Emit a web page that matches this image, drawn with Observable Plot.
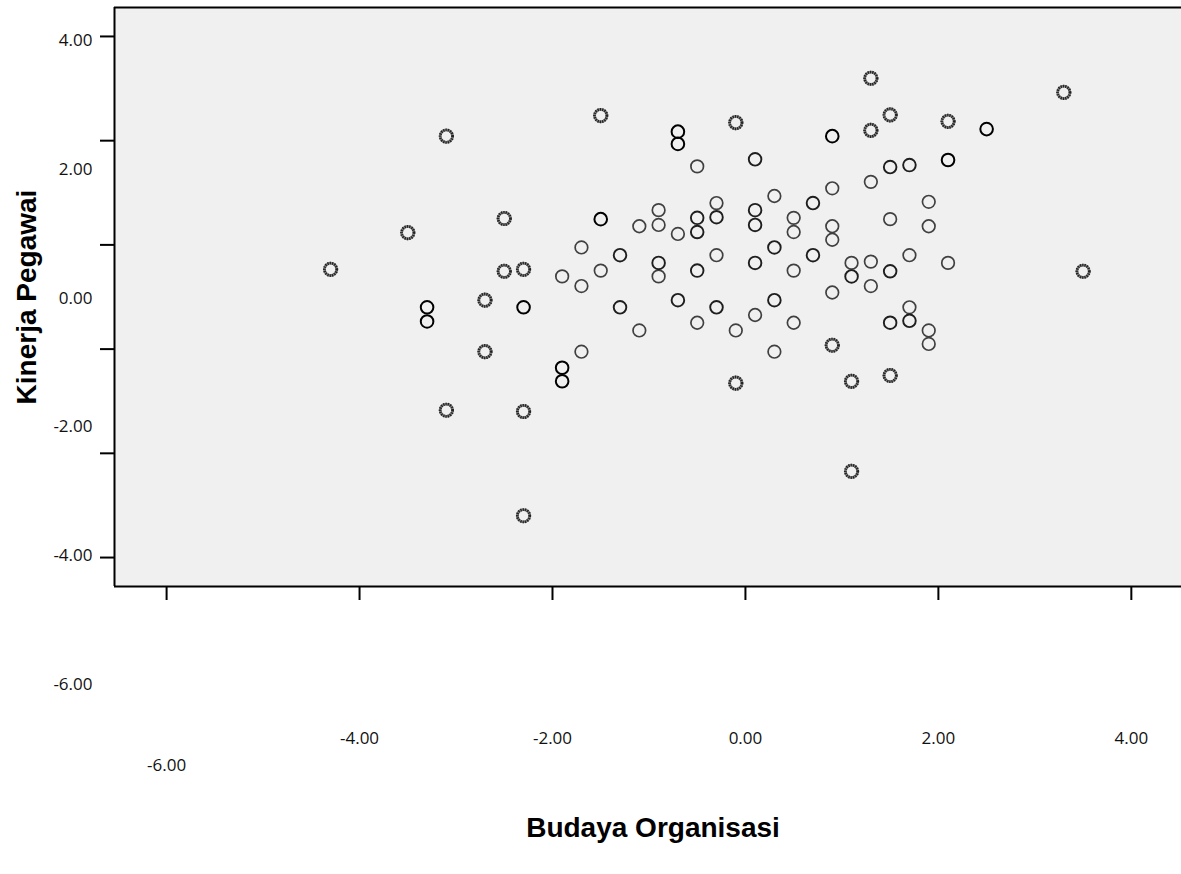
<!DOCTYPE html>
<html>
<head>
<meta charset="utf-8">
<script src="https://cdn.jsdelivr.net/npm/d3@7"></script>
<script src="https://cdn.jsdelivr.net/npm/@observablehq/plot@0.6"></script>
<style>
  html, body { margin: 0; padding: 0; background: #ffffff; }
  #chart svg { display: block; }
</style>
</head>
<body>
<div id="chart"></div>
<script>
// ---- Axis titles ----
const xTitle = "Budaya Organisasi";
const yTitle = "Kinerja Pegawai";

// ---- Scale domains (data units) ----
const xDomain = [-6.54, 4.52];
const yDomain = [-4.48, 4.52];

// ---- Tick marks and tick labels (as drawn by the original, ticks and labels do not coincide on y) ----
const xTickMarks = [-6, -4, -2, 0, 2, 4];
const xTickLabels = [-6, -4, -2, 0, 2, 4];
const yTickMarks = [4.07, 2.45, 0.83, -0.79, -2.41, -4.03];
const yTickLabels = [4, 2, 0, -2, -4, -6];

// ---- Points: speckled (overplotted grey) markers ----
const speckledX = [-4.3, -3.5, -3.1, -3.1, -2.7, -2.7, -2.5, -2.5, -2.3, -2.3, -2.3, -1.5, -0.1, -0.1, 0.9, 1.1, 1.1, 1.3, 1.3, 1.5, 2.1, 3.3, 3.5, 1.5];
const speckledY = [0.45, 1.02, 2.52, -1.74, -0.03, -0.83, 1.24, 0.42, 0.45, -1.76, -3.38, 2.84, 2.73, -1.32, -0.73, -1.29, -2.69, 3.42, 2.61, 2.85, 2.75, 3.20, 0.42, -1.20];

// ---- Points: crisp black markers ----
const blackX = [-3.3, -3.3, -2.3, -1.9, -1.9, -1.5, -0.7, -0.7, 0.9, 2.5, 2.1];
const blackY = [-0.14, -0.36, -0.14, -1.08, -1.29, 1.23, 2.59, 2.40, 2.52, 2.63, 2.15];

// ---- Points: dark grey markers ----
const darkX = [0.1, 0.7, -0.5, -0.5, -0.3, 0.1, 0.1, -1.3, -0.9, -0.5, 0.1, 0.3, 0.7, 1.1, -1.3, -0.7, -0.3, 0.3, 1.5, 1.7, 1.5, 1.5, 1.7];
const darkY = [2.16, 1.48, 1.25, 1.03, 1.26, 1.37, 1.14, 0.67, 0.55, 0.43, 0.55, 0.79, 0.67, 0.34, -0.14, -0.03, -0.14, -0.03, 2.04, 2.07, 0.42, -0.38, -0.35];

// ---- Points: medium grey markers ----
const greyX = [-1.7, -1.9, -1.7, -1.5, -1.7, -0.5, 0.3, 0.9, 1.3, -1.1, -0.9, -0.9, -0.7, -0.3, 0.5, 0.5, 0.9, 0.9, -0.9, -0.3, 0.5, 0.9, 1.1, 1.3, 1.3, -1.1, -0.5, -0.1, 0.1, 0.5, 0.3, 1.9, 1.5, 1.9, 1.7, 2.1, 1.7, 1.9, 1.9];
const greyY = [0.79, 0.34, 0.19, 0.43, -0.83, 2.05, 1.59, 1.71, 1.81, 1.12, 1.37, 1.14, 1.00, 1.48, 1.25, 1.03, 1.12, 0.91, 0.34, 0.67, 0.43, 0.09, 0.55, 0.57, 0.19, -0.50, -0.38, -0.50, -0.26, -0.38, -0.83, 1.50, 1.23, 1.12, 0.67, 0.55, -0.14, -0.50, -0.71];

const toRows = (xs, ys) => xs.map((x, i) => ({x, y: ys[i]}));
const speckled = toRows(speckledX, speckledY);
const black = toRows(blackX, blackY);
const dark = toRows(darkX, darkY);
const grey = toRows(greyX, greyY);

const tickFont = "'Open Sans', 'DejaVu Sans', sans-serif";
const titleFont = "'Liberation Sans', Arial, sans-serif";

const chart = Plot.plot({
  width: 1181,
  height: 874,
  marginLeft: 114,
  marginRight: 0,
  marginTop: 7,
  marginBottom: 288,
  style: {background: "#ffffff", fontFamily: tickFont, color: "#000"},
  x: {domain: xDomain},
  y: {domain: yDomain},
  marks: [
    Plot.frame({fill: "#f0f0f0", stroke: null}),
    // frame borders (left, top, bottom)
    Plot.ruleX([xDomain[0]], {stroke: "#000", strokeWidth: 2}),
    Plot.ruleY(yDomain, {stroke: "#000", strokeWidth: 2}),
    // tick marks
    Plot.axisY({ticks: yTickMarks, tickSize: 14, tickFormat: () => "", label: null, strokeWidth: 2, stroke: "#000"}),
    Plot.axisX({ticks: xTickMarks, tickSize: 14, tickFormat: () => "", label: null, strokeWidth: 2, stroke: "#000"}),
    // y tick labels
    Plot.text(yTickLabels, {
      y: d => d, text: d => d.toFixed(2), frameAnchor: "left", dx: -22,
      textAnchor: "end", lineAnchor: "middle", fontSize: 17, fill: "#111", fontFamily: tickFont
    }),
    // x tick labels
    Plot.text(xTickLabels.filter(d => d !== -6), {
      x: d => d, text: d => d.toFixed(2), frameAnchor: "bottom", dy: 152,
      textAnchor: "middle", lineAnchor: "middle", fontSize: 17, fill: "#111", fontFamily: tickFont
    }),
    Plot.text(xTickLabels.filter(d => d === -6), {
      x: d => d, text: d => d.toFixed(2), frameAnchor: "bottom", dy: 179,
      textAnchor: "middle", lineAnchor: "middle", fontSize: 17, fill: "#111", fontFamily: tickFont
    }),
    // axis titles
    Plot.text([xTitle], {
      text: d => d, frameAnchor: "bottom", dx: 5, dy: 242,
      textAnchor: "middle", lineAnchor: "middle",
      fontSize: 28, fontWeight: "bold", fill: "#000", fontFamily: titleFont
    }),
    Plot.text([yTitle], {
      text: d => d, frameAnchor: "left", dx: -87, rotate: -90,
      textAnchor: "middle", lineAnchor: "middle",
      fontSize: 28, fontWeight: "bold", fill: "#000", fontFamily: titleFont
    }),
    // points
    Plot.dot(grey, {x: "x", y: "y", r: 6.3, fill: "none", stroke: "#404040", strokeWidth: 1.7}),
    Plot.dot(dark, {x: "x", y: "y", r: 6.3, fill: "none", stroke: "#1e1e1e", strokeWidth: 1.9}),
    Plot.dot(black, {x: "x", y: "y", r: 6.3, fill: "none", stroke: "#000", strokeWidth: 2}),
    Plot.dot(speckled, {x: "x", y: "y", r: 6.2, fill: "none", stroke: "#808080", strokeWidth: 2.8}),
    Plot.dot(speckled, {x: "x", y: "y", r: 6.2, fill: "none", stroke: "#222", strokeWidth: 2.8, strokeDasharray: "1.2,1.1"})
  ]
});

document.getElementById("chart").appendChild(chart);
</script>
</body>
</html>
